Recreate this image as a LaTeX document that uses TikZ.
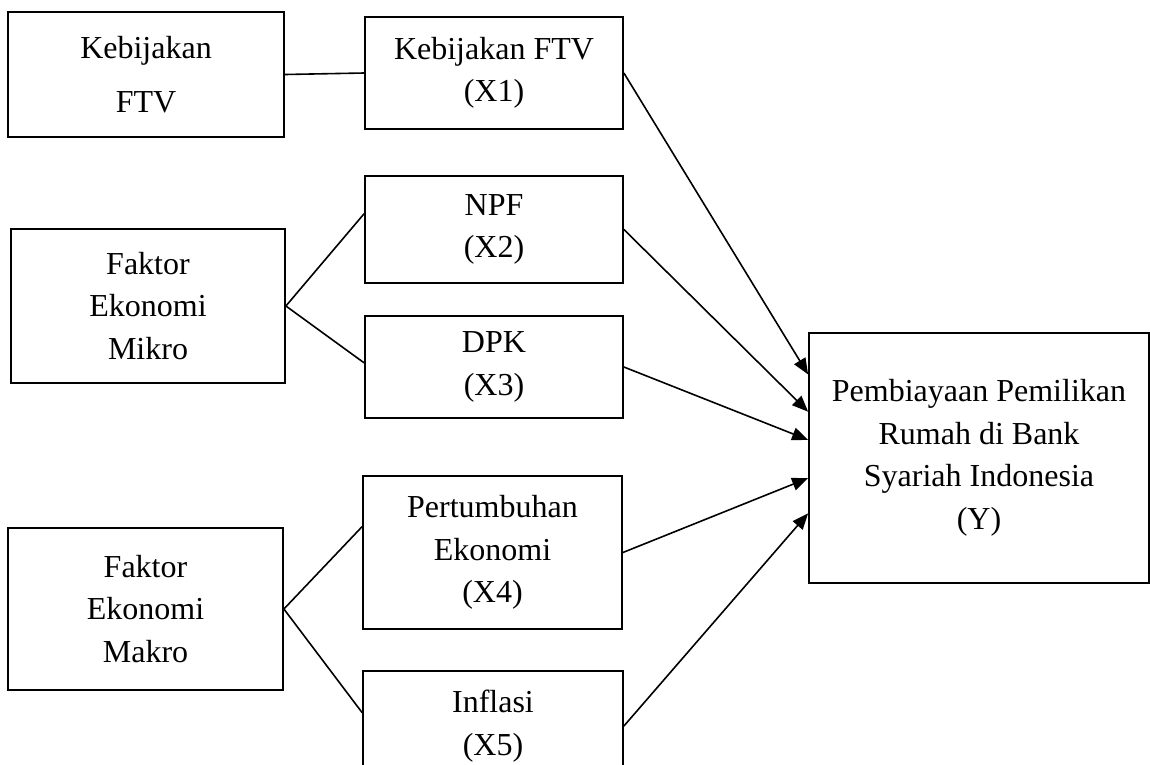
\documentclass[tikz,border=0pt]{standalone}
\usepackage{fontspec}
\setmainfont{Liberation Serif}
\usetikzlibrary{calc, arrows.meta}

\begin{document}
\begin{tikzpicture}[x=1pt, y=-1pt,
  box/.style={draw, line width=1.8pt, inner sep=0pt, align=center,
              font=\fontsize{32}{42.5}\selectfont},
  link/.style={line width=1.6pt},
  arr/.style={line width=1.6pt, -{Triangle[length=16pt, width=13pt]}},
]
\clip (0,0) rectangle (1150,764);

\node[box, minimum width=276pt, minimum height=125pt,
      font=\fontsize{32}{54}\selectfont] (ftv) at (146,74.5) {Kebijakan\\FTV};
\node[box, minimum width=274pt, minimum height=154pt] (mikro) at (148,306) {Faktor\\Ekonomi\\Mikro};
\node[box, minimum width=275pt, minimum height=162pt] (makro) at (145.5,609) {Faktor\\Ekonomi\\Makro};

\node[box, minimum width=258pt, minimum height=112pt] (x1) at (494,73) {Kebijakan FTV\\(X1)};
\node[box, minimum width=258pt, minimum height=107pt] (x2) at (494,229.5) {NPF\\(X2)};
\node[box, minimum width=258pt, minimum height=102pt] (x3) at (494,367) {DPK\\(X3)};
\node[box, minimum width=259pt, minimum height=153pt] (x4) at (492.5,552.5) {Pertumbuhan\\Ekonomi\\(X4)};
\node[box, minimum width=260pt, minimum height=110pt] (x5) at (493,726) {Inflasi\\(X5)};

\node[box, minimum width=340pt, minimum height=250pt] (y) at (979,458)
  {Pembiayaan Pemilikan\\Rumah di Bank\\Syariah Indonesia\\(Y)};

\draw[link] (ftv.east) -- (x1.west);
\draw[link] (mikro.east) -- ($(x2.north west)!.355!(x2.south west)$);
\draw[link] (mikro.east) -- ($(x3.north west)!.46!(x3.south west)$);
\draw[link] (makro.east) -- ($(x4.north west)!.333!(x4.south west)$);
\draw[link] (makro.east) -- ($(x5.north west)!.38!(x5.south west)$);

\draw[arr] (x1.east) -- ($(y.north west)!.168!(y.south west)$);
\draw[arr] (x2.east) -- ($(y.north west)!.316!(y.south west)$);
\draw[arr] (x3.east) -- ($(y.north west)!.428!(y.south west)$);
\draw[arr] (x4.east) -- ($(y.north west)!.58!(y.south west)$);
\draw[arr] (x5.east) -- ($(y.north west)!.72!(y.south west)$);
\end{tikzpicture}
\end{document}
